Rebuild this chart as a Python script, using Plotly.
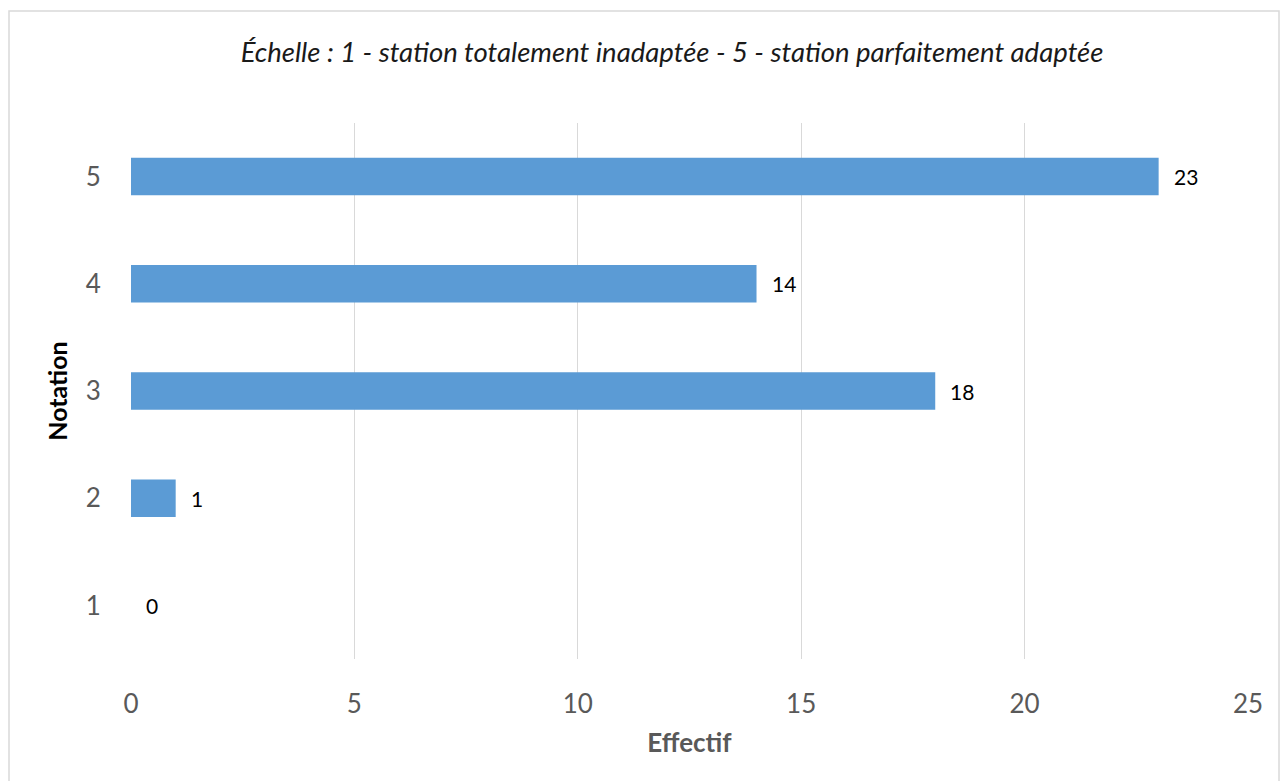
import plotly.graph_objects as go

categories = ["1", "2", "3", "4", "5"]
values = [0, 1, 18, 14, 23]
x_ticks = [0, 5, 10, 15, 20, 25]

W, H = 1282, 781
L, R, T, B = 131, 34, 123, 122
pw, ph = W - L - R, H - T - B
FONT = "Lato, Open Sans, sans-serif"

fig = go.Figure(go.Bar(
    y=categories, x=values, orientation="h",
    marker=dict(color="#5B9BD5", line=dict(width=0)),
    width=0.35,
))

for i, v in enumerate(values):
    fig.add_annotation(
        x=v, y=i, text=str(v), showarrow=False, xanchor="left", yanchor="middle",
        xshift=13, font=dict(family=FONT, size=21, color="#000000"),
    )

fig.update_layout(
    width=W, height=H,
    margin=dict(l=L, r=R, t=T, b=B),
    paper_bgcolor="white", plot_bgcolor="white",
    showlegend=False,
    font=dict(family=FONT),
    title=dict(
        text="<i>Échelle : 1 - station totalement inadaptée - 5 - station parfaitement adaptée</i>",
        x=672 / W, xanchor="center", y=1 - 52 / H, yanchor="middle",
        font=dict(size=27.5, color="#1a1a1a"),
    ),
    xaxis=dict(
        range=[0, 25], tickvals=x_ticks, showgrid=True, gridcolor="#D9D9D9", gridwidth=1.3,
        zeroline=False, showline=False, ticks="outside", ticklen=22, tickcolor="rgba(0,0,0,0)",
        tickfont=dict(size=26, color="#595959"),
        title=dict(text="<b>Effectif</b>", font=dict(size=26, color="#595959"), standoff=15),
    ),
    yaxis=dict(
        type="category", categoryorder="array", categoryarray=categories,
        range=[-0.5, 4.5],
        showgrid=False, zeroline=False, showline=False,
        ticks="outside", ticklen=24, tickcolor="rgba(0,0,0,0)",
        tickfont=dict(size=26, color="#595959"),
        title=dict(text="<b>Notation</b>", font=dict(size=25, color="#000000"), standoff=10),
    ),
    bargap=0.65,
    shapes=[dict(
        type="rect", xref="paper", yref="paper",
        x0=(9 - L) / pw, x1=(1279 - L) / pw,
        y0=-(H + 20 - T - ph) / ph, y1=1 + (T - 11) / ph,
        line=dict(color="#D9D9D9", width=1.5), fillcolor="rgba(0,0,0,0)", layer="below",
    )],
)

fig.write_html("out.html")
